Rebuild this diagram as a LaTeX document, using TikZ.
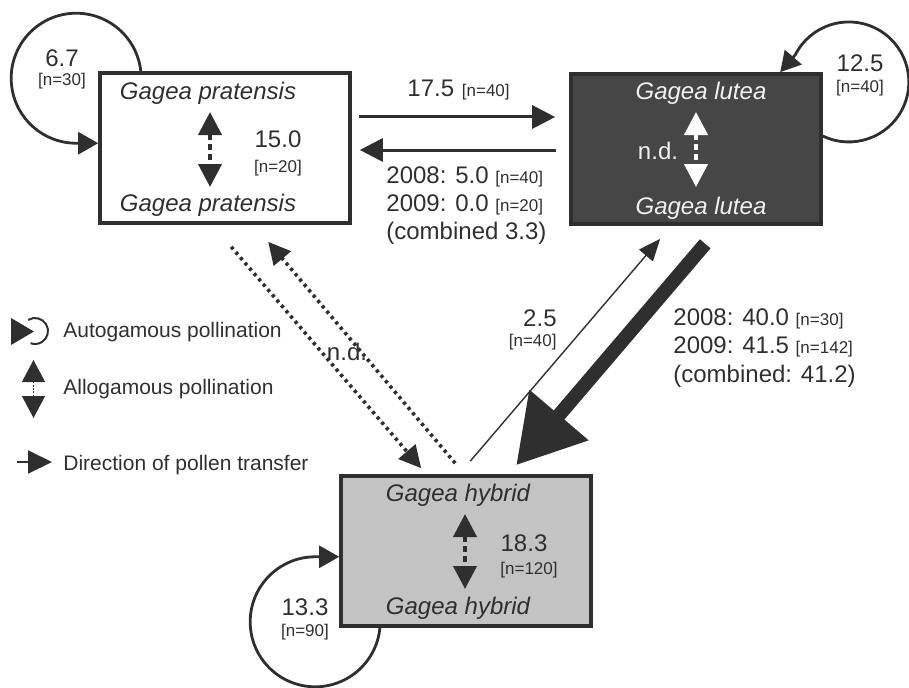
\documentclass[tikz,border=0pt]{standalone}
\usepackage{fontspec}
\setmainfont{Liberation Sans}
\usetikzlibrary{positioning, arrows.meta}
\definecolor{ink}{HTML}{2F2F2F}
\definecolor{luteagrey}{HTML}{464646}
\definecolor{hybridgrey}{HTML}{C3C3C3}
\newcommand{\nsz}{\fontsize{8.5}{10}\selectfont}

\begin{document}
\begin{tikzpicture}[
  x=0.5pt, y=0.5pt,
  every node/.style={inner sep=0pt, text=ink},
  box/.style={draw=ink, line width=1.8pt, minimum width=125pt, minimum height=75pt},
  spec/.style={font=\fontsize{12}{14}\selectfont\itshape, anchor=base},
  num/.style={font=\fontsize{12}{14}\selectfont, anchor=base},
  cnt/.style={font=\nsz, anchor=base},
  leg/.style={font=\fontsize{10.5}{12}\selectfont, anchor=base west},
  arr/.style={draw=ink, line width=1.5pt, -{Triangle[length=11.5pt, width=11.5pt]}},
  selfloop/.style={draw=ink, line width=1.4pt, -{Triangle[length=10pt, width=11pt]}},
  allo/.style={line width=2pt, dash pattern=on 3pt off 2pt,
    {Triangle[length=11.5pt, width=11.5pt]}-{Triangle[length=11.5pt, width=11.5pt]}},
  dots/.style={draw=ink, line width=1.8pt, dash pattern=on 1.6pt off 1.9pt, -{Triangle[length=11pt, width=11pt]}},
  fine/.style={draw=ink, line width=0.7pt, -{Triangle[length=11pt, width=9pt]}},
  bulk/.style={draw=ink, line width=7pt, -{Triangle[length=33pt, width=37pt]}}
]
  \useasboundingbox (0,0) rectangle (909,687);

  \node[box] (prat) at (225,539) {};
  \node[box, fill=luteagrey] (lutea) at (696,538) {};
  \node[box, fill=hybridgrey] (hybrid) at (466,136) {};

  \node[spec] (pratTop) at (208,588) {Gagea pratensis};
  \node[spec] (pratBot) at (208,476) {Gagea pratensis};
  \node[spec, text=white!94!black] (luteaTop) at (701,588) {Gagea lutea};
  \node[spec, text=white!94!black] (luteaBot) at (701,473) {Gagea lutea};
  \node[spec] (hybTop) at (458,186) {Gagea hybrid};
  \node[spec] (hybBot) at (458,73) {Gagea hybrid};

  \coordinate (pratUp) at (210,575);
  \coordinate (pratDown) at (210,500);
  \coordinate (luteaUp) at (696,575);
  \coordinate (luteaDown) at (696,500);
  \coordinate (hybUp) at (465,173);
  \coordinate (hybDown) at (465,98);
  \draw[allo, ink] (pratUp) -- (pratDown);
  \draw[allo, white] (luteaUp) -- (luteaDown);
  \draw[allo, ink] (hybUp) -- (hybDown);

  \node[num] (n150) at (278,539) {15.0};
  \node[cnt] (n150c) at ([yshift=-12pt]n150.base) {[n=20]};
  \node[num, text=white!94!black] (ndlutea) at (658,528) {n.d.};
  \node[num] (n183) at (524,136) {18.3};
  \node[cnt] (n183c) at ([shift={(5,-23)}]n183.base) {[n=120]};

  \draw[selfloop] ([xshift=21.3pt]prat.north west) arc[start angle=6.2, end angle=270, radius=32.5pt] -- ++(22,0);
  \draw[selfloop] ([yshift=6.5pt]lutea.east) arc[start angle=244.3, end angle=513, radius=30pt] -- ([xshift=105.5pt]lutea.north west);
  \draw[selfloop] ([xshift=20.35pt]hybrid.south west) arc[start angle=-5.3, end angle=-270, radius=32.5pt] -- ++(24,0);

  \node[num] (n67) at (62,620) {6.7};
  \node[cnt] (n67c) at ([yshift=-9.5pt]n67.base) {[n=30]};
  \node[num] (n125) at (860,615) {12.5};
  \node[cnt] (n125c) at ([yshift=-10.5pt]n125.base) {[n=40]};
  \node[num] (n133) at (305,72) {13.3};
  \node[cnt] (n133c) at ([yshift=-10.5pt]n133.base) {[n=90]};

  \draw[arr] ([shift={(7,31)}]prat.east) -- ([shift={(-14,32)}]lutea.west);
  \draw[arr] ([shift={(-13,-1)}]lutea.west) -- ([shift={(8,-2)}]prat.east);
  \node[num, anchor=base west] (n175) at (407,590) {17.5};
  \node[cnt, right=3.5pt of n175.base east, anchor=base west] (n175c) {[n=40]};
  \node[num, anchor=base west] (y08a) at (386,504) {2008: 5.0 {\nsz[n=40]}};
  \node[num, anchor=base west] (y09a) at ([yshift=-14pt]y08a.base west) {2009: 0.0 {\nsz[n=20]}};
  \node[num, anchor=base west] (comba) at ([yshift=-14pt]y09a.base west) {(combined 3.3)};

  \draw[dots] ([shift={(133,-22)}]prat.south west) -- ([shift={(82,6)}]hybrid.north west);
  \draw[dots] ([shift={(116,11)}]hybrid.north west) -- ([shift={(170,-17)}]prat.south west);
  \node[num] (ndmid) at (347,327) {n.d.};

  \draw[fine] ([shift={(131,13)}]hybrid.north west) -- ([shift={(91,-13)}]lutea.south west);
  \node[num, anchor=base east] (n25) at (557,361) {2.5};
  \node[cnt, anchor=base east] (n25c) at ([yshift=-10pt]n25.base east) {[n=40]};

  \draw[bulk] ([shift={(136,-18)}]lutea.south west) -- ([shift={(177,9)}]hybrid.north west);
  \node[num, anchor=base west] (y08b) at (673,362) {2008: 40.0 {\nsz[n=30]}};
  \node[num, anchor=base west] (y09b) at ([yshift=-14.25pt]y08b.base west) {2009: 41.5 {\nsz[n=142]}};
  \node[num, anchor=base west] (combb) at ([yshift=-14.25pt]y09b.base west) {(combined: 41.2)};

  \coordinate (legAutoC) at (35,356);
  \fill[ink] (11,369) -- (11,342) -- (34,355.5) -- cycle;
  \draw[ink, line width=1pt] (legAutoC) ++(122:6.5pt) arc[start angle=122, end angle=-110, radius=6.5pt];
  \node[leg] (legAuto) at (63,350) {Autogamous pollination};
  \coordinate (legAlloA) at (33.5,327);
  \coordinate (legAlloB) at (33.5,269);
  \draw[ink, line width=0.6pt, dash pattern=on 0.8pt off 0.8pt,
    {Triangle[length=11pt, width=11.5pt]}-{Triangle[length=11pt, width=11.5pt]}] (legAlloA) -- (legAlloB);
  \node[leg] (legAllo) at (63,293) {Allogamous pollination};
  \coordinate (legDirA) at (17,225);
  \coordinate (legDirB) at (52,225);
  \draw[arr, line width=1pt, -{Triangle[length=12pt, width=11.5pt]}] (legDirA) -- (legDirB);
  \node[leg] (legDir) at (63,217) {Direction of pollen transfer};
\end{tikzpicture}
\end{document}
